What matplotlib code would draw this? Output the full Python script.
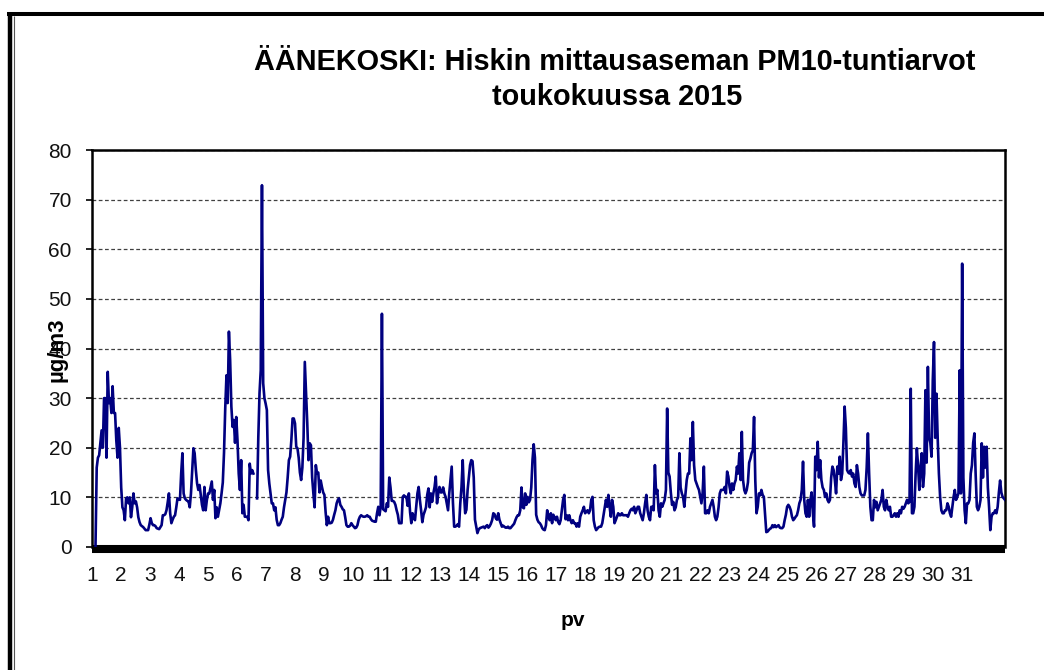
import numpy as np
import matplotlib
matplotlib.use("Agg")
import matplotlib.pyplot as plt
from matplotlib.lines import Line2D

nan = float("nan")

# Hourly PM10 values (µg/m3), one list per day of May 2015
d01 = [0, 16, 18, 18.5, 21, 23.5, 20, 30, 30, 18, 35.3, 29, 30, 27, 32.4, 27, 27, 21.5, 18, 24, 20, 12, 8, 7.4]
d02 = [5.4, 9.8, 10, 8.8, 10, 6, 8, 10.8, 8.8, 9.2, 8, 6, 5, 4.4, 4.2, 4, 3.7, 3.4, 3.4, 3.4, 4.5, 5.8, 4.8, 4.4]
d03 = [4.4, 4.2, 3.8, 3.7, 3.6, 4, 4.4, 6.4, 6.4, 6.6, 7.4, 9, 10.8, 6.8, 4.8, 5.5, 6.1, 6.4, 8, 9.8, 9.6, 9.5, 14.8, 18.9]
d04 = [10.8, 9.8, 9.5, 9.3, 9.2, 8, 10.8, 15.5, 19.9, 18.9, 15.5, 12.8, 11.5, 12.5, 10.5, 8.5, 7.4, 12.1, 7.4, 9.5, 10.8, 10.8, 12, 13.2]
d05 = [9.5, 11.5, 5.8, 8, 6.1, 7.4, 8.8, 10.8, 13, 19, 28, 34.6, 29, 43.4, 37.7, 28.3, 24.2, 25.6, 21, 26.2, 21.5, 14.8, 11.5, 17.5]
d06 = [6.8, 8.5, 6.1, 6.1, 6.1, 5.4, 16.8, 14.8, 15.5, 14.8, nan, nan, 9.8, 22, 31, 35.6, 72.9, 33, 30, 28.9, 27.6, 15.5, 12.8, 10.8]
d07 = [8.8, 8.8, 7.4, 8, 5.5, 4.4, 4.4, 4.8, 5.5, 6.1, 8, 9.5, 11, 14, 17.5, 18.2, 21.5, 25.9, 25.9, 24.9, 20.2, 19.9, 18, 15]
d08 = [13.5, 16, 22, 37.3, 31, 25, 17.5, 20.9, 20.5, 14, 10.8, 8, 16.5, 14.8, 15, 11, 13.4, 12.1, 11, 10.5, 7, 4.4, 6.1, 4.8]
d09 = [4.8, 4.9, 5.5, 6.5, 7.4, 8.8, 9.5, 9.8, 8.5, 8.1, 7.6, 7.4, 6, 4.4, 4.1, 4.1, 4.3, 4.8, 4.4, 4.1, 3.8, 3.9, 4.4, 5.5]
d10 = [6.1, 6.4, 6.2, 6.1, 6.1, 6.2, 6.4, 6.1, 6.1, 5.6, 5.3, 5.2, 5.1, 5.1, 6.8, 8.1, 6.4, 8.1, 47.0, 7.6, 7.4, 7.2, 8.8, 8.1]
d11 = [14, 12, 9.3, 9.3, 9.1, 8.5, 7.4, 6.5, 4.8, 4.8, 4.8, 10.1, 10.4, 10.1, 10.1, 8.3, 10.8, 7, 4.8, 6.8, 5.8, 5.4, 8, 10.8]
d12 = [12.1, 9.5, 7.4, 5, 6.5, 7.2, 8, 10.5, 11.8, 8, 10.8, 9.1, 10.8, 12.1, 14.2, 8.8, 10.8, 12.1, 11, 11, 12, 10.8, 10.1, 8.8]
d13 = [7.4, 10.8, 13.5, 16.2, 9, 4.1, 4.1, 4.3, 4.6, 4.1, 8.8, 12.1, 17.5, 10.8, 6.8, 7.5, 11.5, 14, 16.5, 17.5, 17.3, 14, 5.5, 4.2]
d14 = [2.8, 3.5, 3.8, 3.9, 4, 4.1, 3.8, 4.2, 4.4, 3.9, 4.2, 4.7, 5.4, 6.8, 6.6, 5.8, 5.5, 6.8, 5.5, 4.8, 4.1, 4.3, 4.1, 3.9]
d15 = [3.9, 4.1, 3.8, 3.8, 4.1, 4.4, 4.7, 5.4, 6, 6.4, 6.4, 7.4, 12, 8, 7.8, 10.8, 8.5, 10.1, 9, 9.5, 12, 17.5, 20.7, 18]
d16 = [6.5, 5.5, 5, 4.8, 4.4, 3.8, 3.5, 3.4, 4.4, 7.4, 6.1, 5.4, 6.8, 4.8, 6.5, 6, 5.4, 6.1, 5, 4.6, 5.4, 7.4, 9.5, 10.5]
d17 = [5.6, 6.4, 5.4, 6.4, 5.4, 4.8, 5.4, 4.8, 4.8, 4.1, 4.8, 4.1, 6.1, 6.8, 7.4, 8.1, 6.8, 7.1, 7.4, 6.8, 7.4, 9.5, 10.1, 5.4]
d18 = [4.1, 3.4, 3.7, 4, 4.1, 4.1, 4.8, 6.4, 8.1, 9.5, 8.1, 10.5, 8.1, 6.1, 9.5, 8.1, 4.8, 5.4, 6.1, 6.8, 6.4, 6.4, 6.8, 6.4]
d19 = [6.4, 6.4, 6.4, 6.1, 6.8, 7.4, 7.7, 7.4, 8.1, 6.8, 7.4, 8.1, 8.1, 6.8, 6.1, 5.4, 6.8, 8.8, 10.5, 7.4, 6.1, 5.4, 8.1, 8.1]
d20 = [7.4, 16.5, 10.8, 11.5, 7.4, 6.1, 8.8, 8.1, 8.8, 9.5, 11.5, 27.9, 15, 14.2, 11, 8.5, 9.1, 7.4, 8, 9.5, 10, 18.9, 12, 10.8]
d21 = [10.1, 8.1, 10.8, 13.5, 14.8, 14.8, 21.9, 17.5, 25.2, 16.5, 13.5, 12.8, 12.1, 11.5, 10.1, 8.8, 11, 16.2, 6.8, 6.8, 7.4, 6.8, 8.1, 8.8]
d22 = [9.5, 8.1, 6.1, 5.4, 6.1, 8, 10.8, 11.5, 11.5, 11.5, 12.1, 10.8, 15.2, 14.2, 12.1, 10.8, 12.8, 11.5, 12.8, 13.5, 16.2, 14.8, 18.9, 13.5]
d23 = [23.2, 13.5, 11.5, 10.8, 11.5, 13, 17, 17.8, 18.9, 19.5, 26.2, 13.5, 6.8, 8.1, 10.8, 10.4, 11.5, 10.5, 10.1, 6.5, 3, 3.1, 3.4, 3.7]
d24 = [3.8, 4.4, 4, 4.4, 4, 4.2, 4.4, 3.9, 3.8, 3.8, 4.1, 5.4, 6.5, 8.1, 8.5, 8.1, 7.4, 6.1, 5.4, 5.7, 6.1, 6.4, 7.4, 8.8]
d25 = [9.5, 11.5, 17.2, 9.5, 6.8, 6.1, 9.5, 6.1, 9.5, 11, 7, 4.1, 18.2, 15.5, 21.2, 14, 17.5, 13.5, 12, 11.5, 10.1, 10.8, 9.5, 9]
d26 = [9.5, 14, 16.2, 15.5, 13.5, 10.8, 16.2, 14.8, 18.2, 13.5, 14.8, 21, 28.3, 24, 15.5, 15, 14.8, 15.5, 14.2, 14.8, 12.8, 12.1, 16.5, 14.8]
d27 = [12.1, 10.8, 10.4, 10.4, 10.4, 11.5, 16, 22.9, 14.8, 8.1, 5.4, 5.4, 9.5, 8, 9.1, 7.4, 8.1, 8.8, 9.5, 11.5, 8.1, 7.4, 9.5, 8.1]
d28 = [7.4, 8.1, 6.1, 6.1, 6.4, 6.8, 6.1, 6.8, 6.1, 7.4, 6.8, 8.1, 7.7, 8.1, 8.8, 9.5, 8.8, 9.1, 31.9, 6.8, 6.8, 8.1, 14.8, 19.9]
d29 = [16.2, 11.5, 16, 18.9, 12.1, 14.8, 31.6, 17, 36.3, 22, 21, 18.2, 33.6, 41.3, 22, 30.9, 22, 14.8, 10.1, 7.4, 6.8, 6.8, 7.4, 7.4]
d30 = [8.8, 8.1, 6.8, 6.1, 8.1, 10.1, 11.5, 9.5, 10.1, 10.8, 35.6, 10.8, 57.1, 14, 7.4, 4.8, 8.8, 8.8, 9.5, 14.8, 16.5, 21, 22.9, 14.8]
d31 = [8.1, 7.4, 8.1, 9.5, 20.9, 14, 20.2, 16, 20.2, 12, 8, 3.4, 6.1, 6.8, 6.8, 7.4, 6.8, 8.1, 11, 13.4, 11, 10.1, 9.8, 9.5]

days = [d01, d02, d03, d04, d05, d06, d07, d08, d09, d10, d11, d12, d13, d14, d15, d16,
        d17, d18, d19, d20, d21, d22, d23, d24, d25, d26, d27, d28, d29, d30, d31]
day_labels = [str(i) for i in range(1, 32)]
y_ticks = [0, 10, 20, 30, 40, 50, 60, 70, 80]
title_line1 = "ÄÄNEKOSKI: Hiskin mittausaseman PM10-tuntiarvot"
title_line2 = "toukokuussa 2015"
y_label = "µg/m3"
x_label = "pv"

plt.rcParams['font.family'] = ['Liberation Sans', 'DejaVu Sans']

W, H = 1044, 670
fig = plt.figure(figsize=(W / 100, H / 100), dpi=100)
L, R, T, B = 92, 1005, 150, 547
ax = fig.add_axes([L / W, 1 - B / H, (R - L) / W, (B - T) / H])

values = np.array([v for d in days for v in d], dtype=float)
hours = np.arange(len(values))
ax.plot(hours, values, color='#000080', lw=1.9, solid_joinstyle='round', zorder=3)
ax.set_xlim(0, len(values) - 1)
ax.set_ylim(0, 80)

ax.set_yticks(y_ticks)
ax.set_yticklabels([str(v) for v in y_ticks])
ax.tick_params(axis='y', direction='out', length=4.5, width=1.2, pad=10, color='black',
               labelsize=15, labelcolor='#111111')

px_per_hour = (R - L) / (len(values) - 1)
label_pos = [(88.5 - L + i * 29.1) / px_per_hour for i in range(len(day_labels))]
ax.set_xticks(label_pos)
ax.set_xticklabels(day_labels)
ax.tick_params(axis='x', length=0, pad=12, labelsize=15, labelcolor='#111111')

ax.yaxis.grid(True, linestyle=(0, (3, 2)), color='#404040', lw=0.9)
ax.set_axisbelow(True)

for s in ['left', 'top', 'right']:
    ax.spines[s].set_linewidth(1.8)
    ax.spines[s].set_color('black')
ax.spines['bottom'].set_linewidth(5.8)
ax.spines['bottom'].set_position(('outward', 1.5))
ax.spines['bottom'].set_capstyle('butt')

fig.text(615 / W, 1 - 62 / H, title_line1, ha='center', va='center', fontsize=20.8, fontweight='bold')
fig.text(617 / W, 1 - 97 / H, title_line2, ha='center', va='center', fontsize=20.8, fontweight='bold')
fig.text(57 / W, 1 - 350 / H, y_label, ha='center', va='center', rotation=90, fontsize=16, fontweight='bold')
fig.text(573 / W, 1 - 621 / H, x_label, ha='center', va='center', fontsize=15, fontweight='bold')

# outer frame (top and left borders of the screenshot)
fig.add_artist(Line2D([7.3 / W, 1], [1 - 13.7 / H, 1 - 13.7 / H], color='black', lw=2.9, solid_capstyle='butt'))
fig.add_artist(Line2D([9.5 / W, 9.5 / W], [0, 1 - 11.7 / H], color='black', lw=3.2, solid_capstyle='butt'))
fig.add_artist(Line2D([13.7 / W, 13.7 / W], [0, 1 - 16 / H], color='#555555', lw=0.8, solid_capstyle='butt'))

fig.savefig('out.png', dpi=100)
